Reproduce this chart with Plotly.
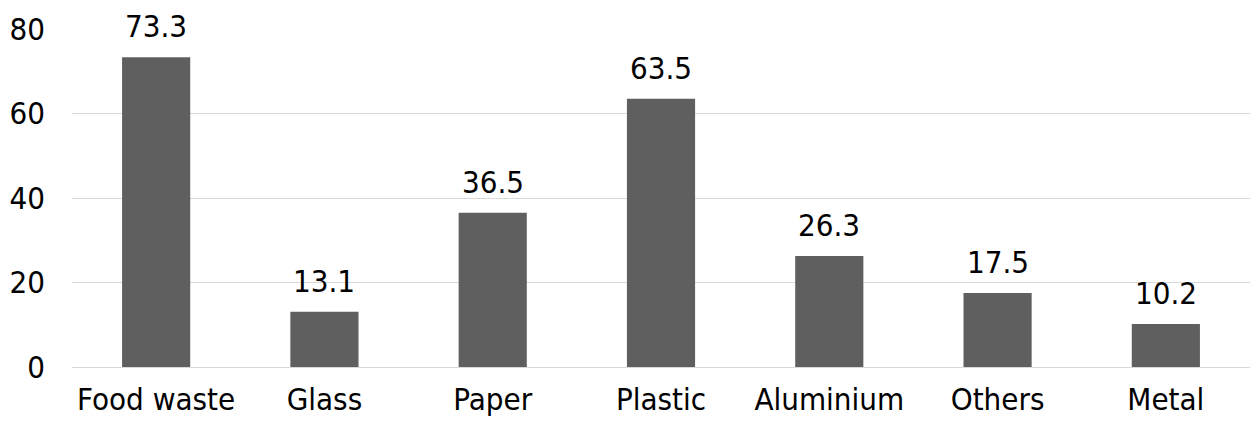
import plotly.graph_objects as go

categories = ["Food waste", "Glass", "Paper", "Plastic", "Aluminium", "Others", "Metal"]
values = [73.3, 13.1, 36.5, 63.5, 26.3, 17.5, 10.2]
y_ticks = [0, 20, 40, 60, 80]

FONT = "DejaVu Sans Condensed, DejaVu Sans, sans-serif"
BAR = "#5f5f5f"
FS = 31

fig = go.Figure(go.Bar(x=categories, y=values, marker=dict(color=BAR, line=dict(width=0)),
                       hoverinfo="skip"))

for c, v in zip(categories, values):
    fig.add_annotation(x=c, y=v, text=f"{v:.1f}", showarrow=False, yanchor="bottom",
                       yshift=11, font=dict(family=FONT, size=FS, color="#000000"))

fig.update_layout(
    width=1252, height=427,
    margin=dict(l=72, r=2, t=29, b=60),
    paper_bgcolor="white", plot_bgcolor="white",
    bargap=0.595, showlegend=False,
    font=dict(family=FONT, size=FS, color="#000000"),
)
fig.update_xaxes(showgrid=False, showline=False, ticks="", ticklabelstandoff=11,
                 tickfont=dict(family=FONT, size=FS))
fig.update_yaxes(range=[0, 80], tickvals=y_ticks, showgrid=True, gridcolor="#d9d9d9",
                 gridwidth=1, zeroline=True, zerolinecolor="#d9d9d9", zerolinewidth=1,
                 showline=False, ticks="", ticklabelstandoff=26,
                 tickfont=dict(family=FONT, size=FS))

fig.write_html("out.html")
